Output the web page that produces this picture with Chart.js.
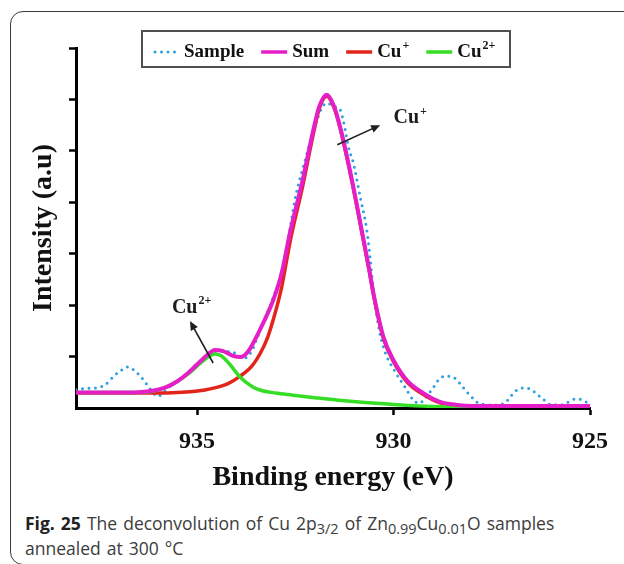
<!DOCTYPE html>
<html>
<head>
<meta charset="utf-8">
<script src="https://cdn.jsdelivr.net/npm/chart.js@4.4.0/dist/chart.umd.min.js"></script>
<style>
  html, body { margin: 0; padding: 0; background: #fff; overflow: hidden; }
  body { width: 624px; height: 564px; position: relative; }
  #frame { position: absolute; left: 10px; top: 11px; width: 700px; height: 554px; border: 1.5px solid #3c3c3c; border-radius: 13px; box-sizing: border-box; }
  #chart { position: absolute; left: 0; top: 0; }
  #caption { position: absolute; left: 25px; top: 511px; font: 400 17.5px 'Open Sans', sans-serif; line-height: 25px; color: #3c3c3c; white-space: nowrap; word-spacing: 1.5px; }
  #caption b { font-weight: 700; color: #222; }
  #caption sub { font-size: 14.5px; line-height: 0; vertical-align: -4px; }
</style>
</head>
<body>
<div id="frame"></div>
<canvas id="chart" width="624" height="500"></canvas>
<div id="caption"><b>Fig. 25</b> The deconvolution of Cu 2p<sub>3/2</sub> of Zn<sub>0.99</sub>Cu<sub>0.01</sub>O samples<br>annealed at 300 °C</div>
<script>
// valeurs (énergie de liaison en eV, intensité en u.a.)
const sampleE = [938.08, 937.8, 937.5, 937.34, 937.09, 936.91, 936.76, 936.58, 936.4, 936.27, 935.99, 935.75, 935.5, 935.2, 934.9, 934.6, 934.16, 933.78, 933.6, 933.4, 933.06, 932.86, 932.62, 932.51, 932.25, 932.0, 931.83, 931.7, 931.5, 931.36, 931.23, 931.15, 931.02, 930.85, 930.68, 930.6, 930.52, 930.39, 930.22, 929.96, 929.71, 929.5, 929.35, 929.2, 928.94, 928.82, 928.61, 928.44, 928.26, 928.13, 927.98, 927.85, 927.47, 927.16, 927.04, 926.86, 926.65, 926.48, 926.32, 926.17, 926.07, 925.76, 925.33, 925.0];
const sampleI = [0.36, 0.38, 0.40, 0.45, 0.64, 0.74, 0.80, 0.72, 0.58, 0.45, 0.23, 0.38, 0.53, 0.71, 0.93, 1.10, 1.10, 0.97, 1.12, 1.50, 2.15, 2.62, 3.55, 4.05, 4.82, 5.47, 5.83, 5.93, 5.86, 5.80, 5.41, 5.08, 4.76, 4.11, 3.46, 2.95, 2.35, 1.62, 1.10, 0.71, 0.41, 0.16, 0.09, 0.19, 0.45, 0.58, 0.62, 0.58, 0.43, 0.31, 0.19, 0.10, 0.06, 0.10, 0.21, 0.35, 0.39, 0.35, 0.25, 0.16, 0.08, 0.06, 0.18, 0.08];

const sumE = [938.08, 937.4, 936.8, 936.4, 936.1, 935.8, 935.5, 935.2, 934.9, 934.7, 934.55, 934.35, 934.1, 933.9, 933.7, 933.4, 933.06, 932.86, 932.62, 932.31, 932.04, 931.89, 931.7, 931.51, 931.34, 931.06, 930.81, 930.62, 930.51, 930.26, 930.0, 929.66, 929.24, 928.82, 928.39, 927.97, 925.0];
const sumI = [0.30, 0.30, 0.30, 0.31, 0.34, 0.40, 0.52, 0.70, 0.92, 1.06, 1.13, 1.11, 1.02, 0.99, 1.10, 1.52, 2.10, 2.58, 3.46, 4.44, 5.41, 5.86, 6.09, 5.86, 5.41, 4.44, 3.46, 2.70, 2.23, 1.39, 0.93, 0.54, 0.29, 0.12, 0.06, 0.04, 0.04];

const cu1E = [938.08, 936.0, 935.5, 935.1, 934.8, 934.5, 934.2, 933.9, 933.6, 933.4, 933.2, 933.06, 932.86, 932.62, 932.31, 932.04, 931.89, 931.7, 931.51, 931.34, 931.06, 930.81, 930.62, 930.51, 930.26, 930.0, 929.66, 929.24, 928.82, 928.39, 927.97, 925.0];
const cu1I = [0.29, 0.29, 0.30, 0.32, 0.35, 0.40, 0.48, 0.62, 0.82, 1.05, 1.38, 1.72, 2.30, 3.28, 4.32, 5.33, 5.82, 6.06, 5.83, 5.38, 4.41, 3.43, 2.67, 2.20, 1.36, 0.90, 0.51, 0.26, 0.10, 0.05, 0.03, 0.03];

const cu2E = [938.08, 936.5, 936.1, 935.8, 935.5, 935.2, 934.9, 934.7, 934.55, 934.4, 934.2, 933.9, 933.6, 933.4, 933.0, 932.56, 932.0, 931.4, 930.8, 930.0, 929.0, 928.0, 927.0, 925.0];
const cu2I = [0.30, 0.30, 0.33, 0.40, 0.52, 0.68, 0.88, 1.00, 1.05, 1.02, 0.88, 0.60, 0.42, 0.35, 0.29, 0.25, 0.20, 0.15, 0.11, 0.07, 0.03, 0.015, 0.01, 0.01];

const xTicks = [935, 930, 925];
const yTicks = [1, 2, 3, 4, 5, 6, 7];

// flèches et étiquettes (positions en coordonnées des données)
const peakNotes = [
    { from: [931.43, 5.12], to: [930.34, 5.50], text: 'Cu', sup: '+', at: [930.0, 5.54] },
    { from: [934.59, 0.875], to: [935.18, 1.69], text: 'Cu', sup: '2+', at: [935.64, 1.85] }
];

const serif = "'Liberation Serif', 'Times New Roman', serif";
const colors = { sample: '#2e9fe0', sum: '#e61ec8', cu1: '#e3241b', cu2: '#35dd25' };

function pts(es, vs) {
    return es.map((e, i) => ({ x: e, y: vs[i] }));
}

function drawIon(ctx, base, sup, x, y, size) {
    ctx.font = 'bold ' + size + 'px ' + serif;
    ctx.textBaseline = 'alphabetic';
    ctx.textAlign = 'left';
    ctx.fillText(base, x, y);
    const w = ctx.measureText(base).width;
    ctx.font = 'bold ' + Math.round(size * 0.62) + 'px ' + serif;
    ctx.fillText(sup, x + w + 1, y - size * 0.42);
    return w + 1 + ctx.measureText(sup).width;
}

const peakLabels = {
    id: 'peakLabels',
    afterDatasetsDraw(chart) {
        const { ctx, scales: { x, y } } = chart;
        ctx.save();
        ctx.strokeStyle = '#1e1e1e';
        ctx.fillStyle = '#1e1e1e';
        ctx.lineWidth = 1.6;
        peakNotes.forEach(n => {
            const x0 = x.getPixelForValue(n.from[0]), y0 = y.getPixelForValue(n.from[1]);
            const x1 = x.getPixelForValue(n.to[0]), y1 = y.getPixelForValue(n.to[1]);
            const a = Math.atan2(y1 - y0, x1 - x0);
            const c = Math.cos(a), s = Math.sin(a);
            ctx.beginPath();
            ctx.moveTo(x0, y0);
            ctx.lineTo(x1 - 6 * c, y1 - 6 * s);
            ctx.stroke();
            ctx.beginPath();
            ctx.moveTo(x1, y1);
            ctx.lineTo(x1 - 9 * c + 4 * s, y1 - 9 * s - 4 * c);
            ctx.lineTo(x1 - 9 * c - 4 * s, y1 - 9 * s + 4 * c);
            ctx.closePath();
            ctx.fill();
            drawIon(ctx, n.text, n.sup, x.getPixelForValue(n.at[0]), y.getPixelForValue(n.at[1]), 20);
        });
        ctx.restore();
    }
};

// légende encadrée en haut du graphique
const boxLegend = {
    id: 'boxLegend',
    afterDraw(chart) {
        const ctx = chart.ctx;
        const area = chart.chartArea;
        const left = area.left + 66, top = area.top - 17, h = 36;
        const items = [
            { ds: chart.data.datasets[0], text: 'Sample', sup: '' },
            { ds: chart.data.datasets[1], text: 'Sum', sup: '' },
            { ds: chart.data.datasets[2], text: 'Cu', sup: '+' },
            { ds: chart.data.datasets[3], text: 'Cu', sup: '2+' }
        ];
        ctx.save();
        ctx.fillStyle = '#fff';
        ctx.fillRect(left, top, 368, h);
        ctx.strokeStyle = '#505050';
        ctx.lineWidth = 2;
        ctx.strokeRect(left, top, 368, h);
        let xx = left + 11;
        const ly = top + 21, ty = top + 26;
        items.forEach(it => {
            ctx.save();
            ctx.strokeStyle = it.ds.borderColor;
            ctx.lineWidth = it.ds.borderDash ? 3 : 3.5;
            ctx.lineCap = it.ds.borderDash ? 'round' : 'butt';
            ctx.setLineDash(it.ds.borderDash || []);
            ctx.beginPath();
            ctx.moveTo(xx + (it.ds.borderDash ? 2 : 0), ly);
            ctx.lineTo(xx + 26, ly);
            ctx.stroke();
            ctx.restore();
            ctx.fillStyle = '#111';
            let w;
            if (it.sup) {
                w = drawIon(ctx, it.text, it.sup, xx + 31, ty, 19);
            } else {
                ctx.font = 'bold 19px ' + serif;
                ctx.textBaseline = 'alphabetic';
                ctx.fillText(it.text, xx + 31, ty);
                w = ctx.measureText(it.text).width;
            }
            xx += 31 + w + 17;
        });
        ctx.restore();
    }
};

const ctx = document.getElementById('chart').getContext('2d');
new Chart(ctx, {
    type: 'line',
    data: {
        datasets: [
            { label: 'Sample', data: pts(sampleE, sampleI), borderColor: colors.sample, borderWidth: 3, borderDash: [0, 6.5], borderCapStyle: 'round', order: 3 },
            { label: 'Sum', data: pts(sumE, sumI), borderColor: colors.sum, borderWidth: 4, order: 0 },
            { label: 'Cu+', data: pts(cu1E, cu1I), borderColor: colors.cu1, borderWidth: 3.5, order: 2 },
            { label: 'Cu2+', data: pts(cu2E, cu2I), borderColor: colors.cu2, borderWidth: 3.5, order: 1 }
        ]
    },
    options: {
        responsive: false,
        animation: false,
        devicePixelRatio: 1,
        layout: { padding: { left: 0, right: 34, top: 48, bottom: 0 } },
        elements: {
            point: { radius: 0 },
            line: { cubicInterpolationMode: 'monotone', fill: false }
        },
        plugins: {
            legend: { display: false },
            tooltip: { enabled: false }
        },
        scales: {
            x: {
                type: 'linear',
                reverse: true,
                min: 925,
                max: 938.08,
                afterBuildTicks: s => { s.ticks = xTicks.map(v => ({ value: v })); },
                afterFit: s => { s.height = 92; },
                grid: { drawOnChartArea: false, drawTicks: true, tickLength: 7, tickWidth: 2.5, tickColor: '#000' },
                border: { display: true, color: '#000', width: 3 },
                ticks: { padding: 12, color: '#111', maxRotation: 0, autoSkip: false,
                    font: { family: serif, weight: 'bold', size: 24 } },
                title: { display: true, text: 'Binding energy (eV)', color: '#111',
                    font: { family: serif, weight: 'bold', size: 28 }, padding: { top: 0, bottom: 5 } }
            },
            y: {
                min: 0,
                max: 7,
                afterBuildTicks: s => { s.ticks = yTicks.map(v => ({ value: v })); },
                afterFit: s => { s.width = 76; },
                grid: { drawOnChartArea: false, drawTicks: true, tickLength: 7, tickWidth: 2.5, tickColor: '#000' },
                border: { display: true, color: '#000', width: 3 },
                ticks: { display: false },
                title: { display: true, text: 'Intensity (a.u)', color: '#111',
                    font: { family: serif, weight: 'bold', size: 28 }, padding: { top: 27, bottom: 0 } }
            }
        }
    },
    plugins: [peakLabels, boxLegend]
});
</script>
</body>
</html>
